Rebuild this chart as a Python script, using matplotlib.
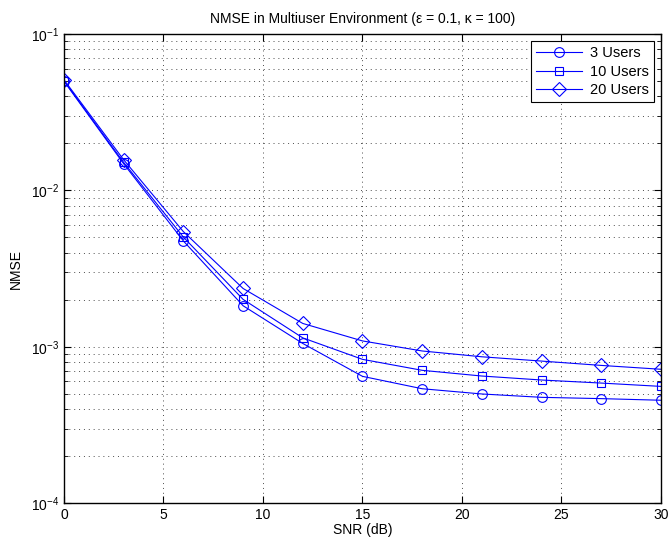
import numpy as np
import matplotlib
matplotlib.use("Agg")
import matplotlib.pyplot as plt
from matplotlib.ticker import LogLocator, NullFormatter

plt.rcParams['font.family'] = ['Liberation Sans', 'DejaVu Sans']
plt.rcParams['mathtext.fontset'] = 'custom'
plt.rcParams['mathtext.rm'] = 'Liberation Sans'
plt.rcParams['mathtext.it'] = 'Liberation Sans:italic'
plt.rcParams['mathtext.bf'] = 'Liberation Sans:bold'

snr = [0, 3, 6, 9, 12, 15, 18, 21, 24, 27, 30]
# NMSE
nmse_3 = [0.0499, 0.0148, 4.75e-3, 1.83e-3, 1.05e-3, 6.47e-4, 5.39e-4, 4.99e-4, 4.75e-4, 4.66e-4, 4.55e-4]
nmse_10 = [0.0503, 0.0151, 5.03e-3, 2.01e-3, 1.14e-3, 8.31e-4, 7.07e-4, 6.50e-4, 6.13e-4, 5.86e-4, 5.58e-4]
nmse_20 = [0.0510, 0.0157, 5.45e-3, 2.36e-3, 1.41e-3, 1.09e-3, 9.40e-4, 8.63e-4, 8.10e-4, 7.60e-4, 7.18e-4]
labels = ['3 Users', '10 Users', '20 Users']

fig = plt.figure(figsize=(6.68, 5.41), dpi=100)
ax = fig.add_axes([0.0958, 0.070, 0.8937, 0.867])

ax.semilogy(snr, nmse_3, '-o', color='blue', lw=0.8, ms=7, mfc='none', mew=0.8, label=labels[0])
ax.semilogy(snr, nmse_10, '-s', color='blue', lw=0.8, ms=6, mfc='none', mew=0.8, label=labels[1])
ax.semilogy(snr, nmse_20, '-D', color='blue', lw=0.8, ms=7.5, mfc='none', mew=0.8, label=labels[2])

ax.set_xlim(0, 30)
ax.set_ylim(1e-4, 1e-1)
ax.set_xticks([0, 5, 10, 15, 20, 25, 30])
ax.yaxis.set_major_locator(LogLocator(base=10, numticks=10))
ax.yaxis.set_minor_locator(LogLocator(base=10, subs=np.arange(2, 10), numticks=20))
ax.yaxis.set_minor_formatter(NullFormatter())

dots = (0, (1, 4))
ax.grid(True, which='major', linestyle=dots, color='black', lw=0.7, alpha=0.7)
ax.grid(True, which='minor', axis='y', linestyle=dots, color='black', lw=0.7, alpha=0.7)
ax.tick_params(which='both', direction='in', top=True, right=True, labelsize=10)
ax.tick_params(which='major', length=5)
ax.tick_params(which='minor', length=3)
for s in ax.spines.values():
    s.set_linewidth(1.0)

ax.set_xlabel('SNR (dB)', fontsize=10, labelpad=1)
ax.set_ylabel('NMSE', fontsize=10, labelpad=6)
ax.set_title('NMSE in Multiuser Environment (ε = 0.1, κ = 100)', fontsize=10, pad=8)

leg = ax.legend(loc='upper right', fontsize=10.5, fancybox=False, edgecolor='black',
                framealpha=1, handlelength=3.2, borderpad=0.35, labelspacing=0.3,
                borderaxespad=0.5, handletextpad=0.5)
leg.get_frame().set_linewidth(0.8)

fig.savefig('out.png', dpi=100)
